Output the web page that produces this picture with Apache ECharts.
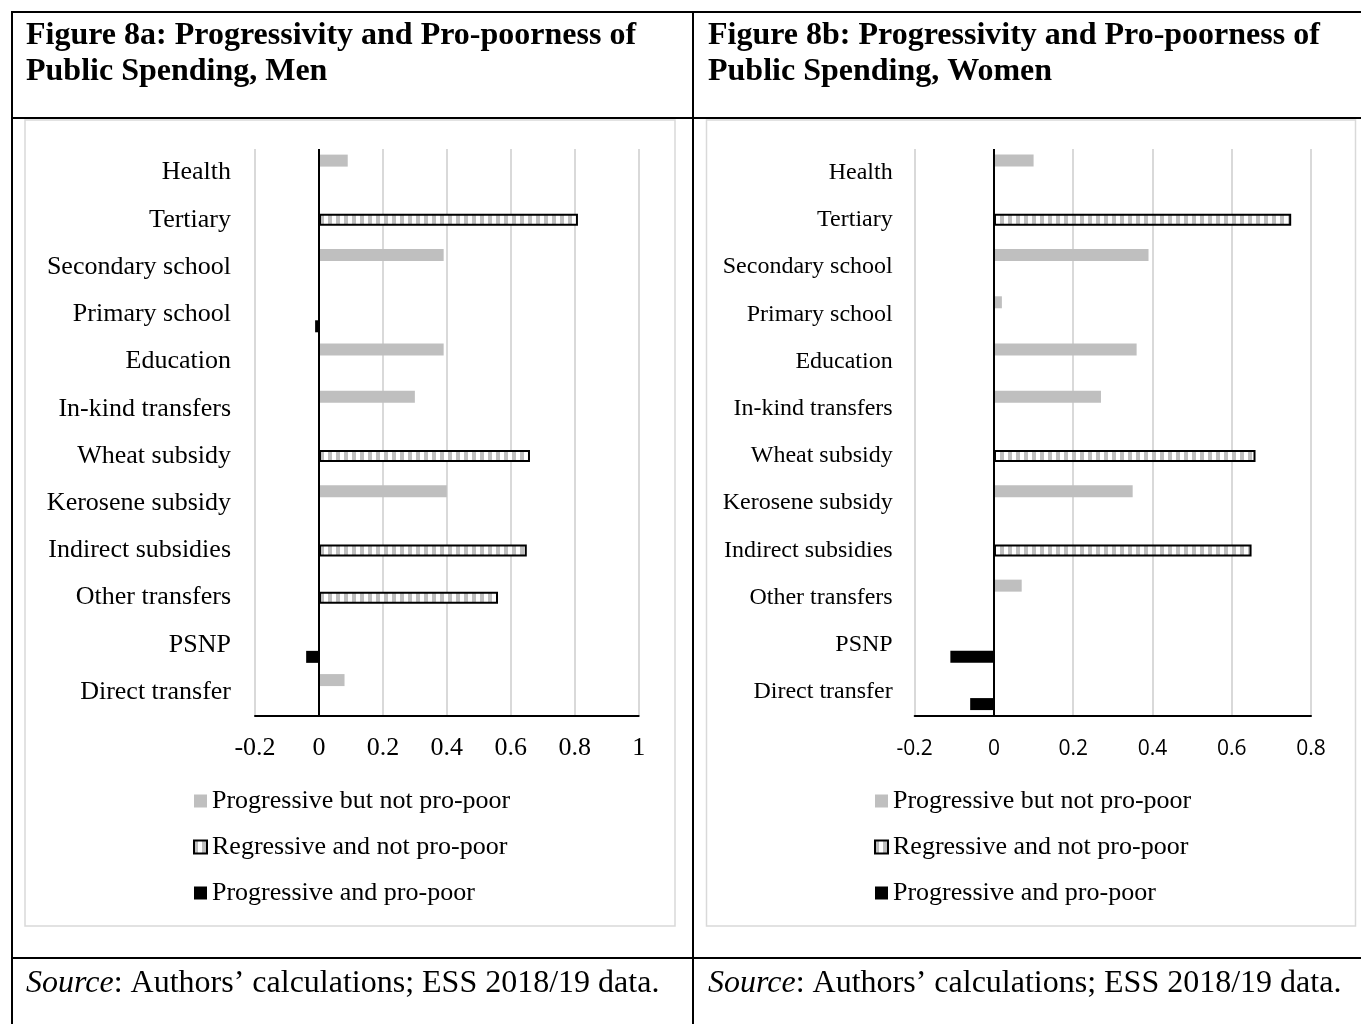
<!DOCTYPE html>
<html>
<head>
<meta charset="utf-8">
<script src="https://cdn.jsdelivr.net/npm/echarts@6/dist/echarts.min.js"></script>
<style>
html,body{margin:0;padding:0;background:#fff;}
#c{width:1361px;height:1024px;}
</style>
</head>
<body>
<div id="c"></div>
<script>
const categories = ['Health','Tertiary','Secondary school','Primary school','Education','In-kind transfers','Wheat subsidy','Kerosene subsidy','Indirect subsidies','Other transfers','PSNP','Direct transfer'];
const seriesNames = ['Progressive but not pro-poor','Regressive and not pro-poor','Progressive and pro-poor'];

const menProgNotPoor   = [0.09, null, 0.39, null, 0.39, 0.30, null, 0.40, null, null, null, 0.08];
const menRegressive    = [null, 0.81, null, null, null, null, 0.66, null, 0.65, 0.56, null, null];
const menProgPoor      = [null, null, null, -0.012, null, null, null, null, null, null, -0.04, null];

const womenProgNotPoor = [0.10, null, 0.39, 0.02, 0.36, 0.27, null, 0.35, null, 0.07, null, null];
const womenRegressive  = [null, 0.75, null, null, null, null, 0.66, null, 0.65, null, null, null];
const womenProgPoor    = [null, null, null, null, null, null, null, null, null, null, -0.11, -0.06];

const menTicks = {min: -0.2, max: 1, interval: 0.2};
const womenTicks = {min: -0.2, max: 0.8, interval: 0.2};

const titleMen = 'Figure 8a: Progressivity and Pro-poorness of\nPublic Spending, Men';
const titleWomen = 'Figure 8b: Progressivity and Pro-poorness of\nPublic Spending, Women';
const sourceText = '{i|Source}: Authors\u2019 calculations; ESS 2018/19 data.';

// hatch pattern
const pc = document.createElement('canvas');
pc.width = 8; pc.height = 8;
const pctx = pc.getContext('2d');
pctx.fillStyle = '#ffffff'; pctx.fillRect(0,0,8,8);
pctx.fillStyle = '#bfbfbf'; pctx.fillRect(0,0,4,8);
const hatch = {image: pc, repeat: 'repeat'};

const SERIF = '"Liberation Serif", "Times New Roman", serif';
const SANS = '"Open Sans", "Noto Sans", sans-serif';

function makeSeries(idx, a, b, c) {
  return [
    {name: seriesNames[0], type: 'bar', xAxisIndex: idx, yAxisIndex: idx, data: a,
     barWidth: 12, barGap: '0%', itemStyle: {color: '#bfbfbf'}},
    {name: seriesNames[1], type: 'bar', xAxisIndex: idx, yAxisIndex: idx, data: b,
     barWidth: 12, barGap: '0%', itemStyle: {color: hatch, borderColor: '#000', borderWidth: 2},
     markLine: {silent: true, symbol: ['none','none'], label: {show: false},
       lineStyle: {color: '#000', width: 2, type: 'solid'}, data: [{xAxis: 0}], animation: false}},
    {name: seriesNames[2], type: 'bar', xAxisIndex: idx, yAxisIndex: idx, data: c,
     barWidth: 12, barGap: '0%', itemStyle: {color: '#000'}}
  ];
}

function line(x1,y1,x2,y2,color,w){
  return {type:'line', shape:{x1,y1,x2,y2}, style:{stroke:color, lineWidth:w}, silent:true};
}

const chart = echarts.init(document.getElementById('c'), null, {renderer: 'canvas'});
chart.setOption({
  animation: false,
  backgroundColor: '#fff',
  grid: [
    {left: 255, right: 722.3, top: 149, bottom: 308.3},
    {left: 914.7, right: 50, top: 149, bottom: 308.3}
  ],
  xAxis: [
    {type: 'value', gridIndex: 0, min: menTicks.min, max: menTicks.max, interval: menTicks.interval,
     axisLine: {show: true, onZero: false, lineStyle: {color: '#000', width: 2}},
     axisTick: {show: false},
     splitLine: {show: true, lineStyle: {color: '#d9d9d9', width: 2}},
     axisLabel: {color: '#000', fontFamily: SERIF, fontSize: 26, margin: 19,
       formatter: v => String(Math.round(v*10)/10)}},
    {type: 'value', gridIndex: 1, min: womenTicks.min, max: womenTicks.max, interval: womenTicks.interval,
     axisLine: {show: true, onZero: false, lineStyle: {color: '#000', width: 2}},
     axisTick: {show: false},
     splitLine: {show: true, lineStyle: {color: '#d9d9d9', width: 2}},
     axisLabel: {color: '#000', fontFamily: SANS, fontSize: 21, margin: 23,
       formatter: v => String(Math.round(v*10)/10)}}
  ],
  yAxis: [
    {type: 'category', gridIndex: 0, data: categories, inverse: true,
     axisLine: {show: false}, axisTick: {show: false}, splitLine: {show: false},
     axisLabel: {color: '#000', fontFamily: SERIF, fontSize: 26, margin: 24}},
    {type: 'category', gridIndex: 1, data: categories, inverse: true,
     axisLine: {show: false}, axisTick: {show: false}, splitLine: {show: false},
     axisLabel: {color: '#000', fontFamily: SERIF, fontSize: 24, margin: 22}}
  ],
  legend: [
    {orient: 'vertical', left: 188, top: 781, itemWidth: 13, itemHeight: 13, itemGap: 16, icon: 'rect',
     data: seriesNames, selectedMode: false,
     textStyle: {fontFamily: SERIF, fontSize: 26, color: '#000', lineHeight: 30}},
    {orient: 'vertical', left: 869, top: 781, itemWidth: 13, itemHeight: 13, itemGap: 16, icon: 'rect',
     data: seriesNames, selectedMode: false,
     textStyle: {fontFamily: SERIF, fontSize: 26, color: '#000', lineHeight: 30}}
  ],
  series: [].concat(
    makeSeries(0, menProgNotPoor, menRegressive, menProgPoor),
    makeSeries(1, womenProgNotPoor, womenRegressive, womenProgPoor)
  ),
  graphic: [
    // chart frames
    {type:'rect', shape:{x:25, y:120, width:650, height:806}, style:{fill:'none', stroke:'#d9d9d9', lineWidth:1.5}, silent:true, z:-10},
    {type:'rect', shape:{x:706.5, y:120, width:649, height:806}, style:{fill:'none', stroke:'#d9d9d9', lineWidth:1.5}, silent:true, z:-10},
    // table lines
    line(11, 12, 1361, 12, '#000', 2),
    line(12, 11, 12, 1024, '#000', 2),
    line(693, 11, 693, 1024, '#000', 2),
    line(11, 118, 1361, 118, '#000', 2),
    line(11, 958, 1361, 958, '#000', 2),
    // titles
    {type:'text', x:26, y:18, silent:true, style:{text: titleMen, fill:'#000',
      font: 'bold 32px "Liberation Serif", serif', lineHeight: 36}},
    {type:'text', x:708, y:18, silent:true, style:{text: titleWomen, fill:'#000',
      font: 'bold 32px "Liberation Serif", serif', lineHeight: 36}},
    // sources
    {type:'text', x:26, y:984, silent:true, style:{text: sourceText, fill:'#000',
      fontFamily: '"Liberation Serif", serif', fontSize: 32, verticalAlign:'middle',
      rich: {i: {fontStyle:'italic', fontFamily:'"Liberation Serif", serif', fontSize: 32}}}},
    {type:'text', x:708, y:984, silent:true, style:{text: sourceText, fill:'#000',
      fontFamily: '"Liberation Serif", serif', fontSize: 32, verticalAlign:'middle',
      rich: {i: {fontStyle:'italic', fontFamily:'"Liberation Serif", serif', fontSize: 32}}}}
  ]
});
</script>
</body>
</html>
